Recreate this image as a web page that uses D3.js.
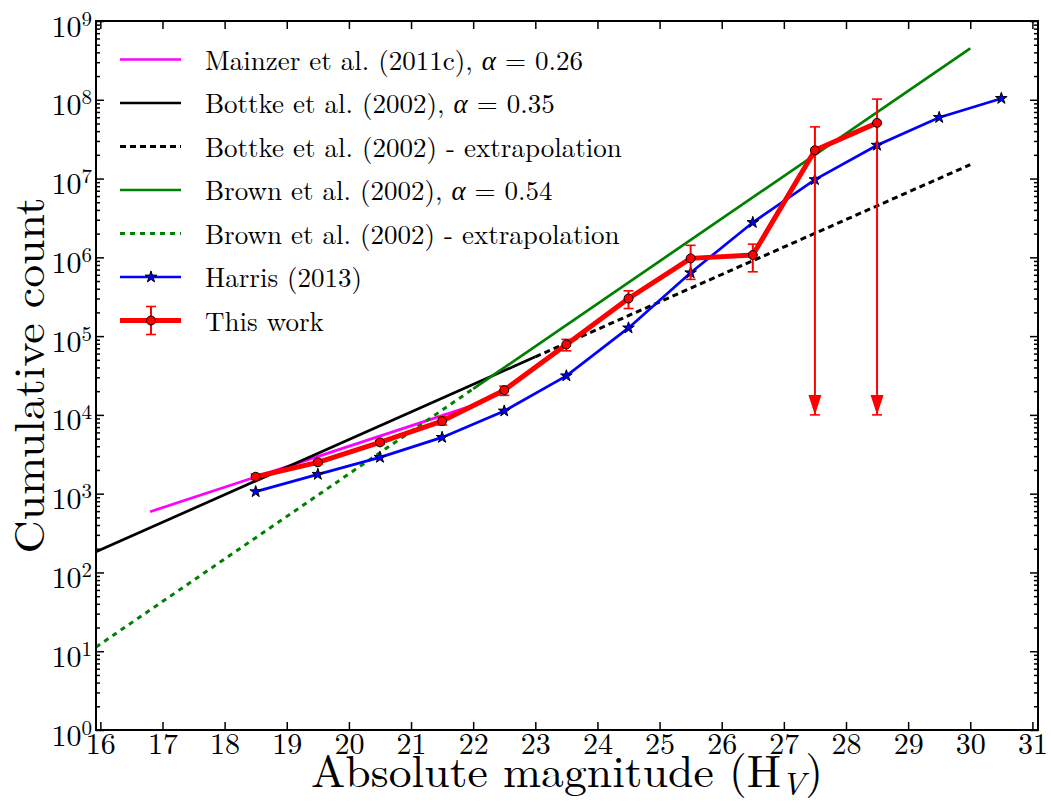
<!DOCTYPE html>
<html>
<head>
<meta charset="utf-8">
<script src="https://cdn.jsdelivr.net/npm/d3@7"></script>
<style>
  body { margin: 0; background: #fff; }
  svg { display: block; }
</style>
</head>
<body>
<svg class="svg-main" width="1051" height="810"></svg>
<script>
// power-law fits (endpoints)
const mainzerH = [16.8, 22.0];
const mainzerN = [590, 13200];
const bottkeH = [15.93, 23.0];
const bottkeN = [183, 54600];
const bottkeExtH = [23.0, 30.0];
const bottkeExtN = [54600, 1.5e7];
const brownH = [22.0, 30.0];
const brownN = [21400, 4.48e8];
const brownExtH = [15.93, 22.0];
const brownExtN = [11.3, 21400];

// Harris (2013)
const harrisH = [18.5, 19.5, 20.5, 21.5, 22.5, 23.5, 24.5, 25.5, 26.5, 27.5, 28.5, 29.5, 30.5];
const harrisN = [1060, 1760, 2890, 5180, 11200, 31300, 127000, 636000, 2.77e6, 9.7e6, 2.65e7, 5.96e7, 1.04e8];

// this work
const thisH = [18.5, 19.5, 20.5, 21.5, 22.5, 23.5, 24.5, 25.5, 26.5, 27.5, 28.5];
const thisN = [1640, 2500, 4480, 8340, 20600, 78500, 300000, 970000, 1.07e6, 2.29e7, 5.09e7];
const thisLo = [1510, 2350, 4250, 7430, 17700, 65000, 224000, 525000, 655000, 1e4, 1e4];
const thisHi = [1780, 2650, 4750, 9460, 23200, 90800, 376000, 1.42e6, 1.47e6, 4.53e7, 1.02e8];
const thisLimit = [0, 0, 0, 0, 0, 0, 0, 0, 0, 1, 1];

const xTicks = d3.range(16, 32);
const yTicks = d3.range(0, 10).map(k => Math.pow(10, k));

const legendLabels = [
  ["Mainzer et al. (2011c), ", "α", " = 0.26"],
  ["Bottke et al. (2002), ", "α", " = 0.35"],
  ["Bottke et al. (2002) - extrapolation"],
  ["Brown et al. (2002), ", "α", " = 0.54"],
  ["Brown et al. (2002) - extrapolation"],
  ["Harris (2013)"],
  ["This work"]
];

const FONT = '"Latin Modern Roman", "Liberation Serif", serif';

const svg = d3.select('.svg-main');
const pLeft = 96, pRight = 1038, pTop = 21, pBottom = 730;

const x = d3.scaleLinear().domain([15.93, 31.09]).range([pLeft, pRight]);
const y = d3.scaleLog().domain([1, 1e9]).range([pBottom, pTop]);

svg.append("defs").append("clipPath").attr("id", "plot")
  .append("rect")
    .attr("x", pLeft).attr("y", pTop)
    .attr("width", pRight - pLeft).attr("height", pBottom - pTop);

const plot = svg.append("g").attr("clip-path", "url(#plot)");

const line = d3.line()
  .x((d) => x(d[0]))
  .y((d) => y(d[1]));

const zip = (a, b) => a.map((v, i) => [v, b[i]]);

const styles = [
  {h: mainzerH, n: mainzerN, color: "#ff00ff", w: 2.7, dash: null},
  {h: bottkeH, n: bottkeN, color: "#000000", w: 2.7, dash: null},
  {h: bottkeExtH, n: bottkeExtN, color: "#000000", w: 3, dash: "6,4"},
  {h: brownH, n: brownN, color: "#008000", w: 2.7, dash: null},
  {h: brownExtH, n: brownExtN, color: "#008000", w: 3, dash: "5,5"},
  {h: harrisH, n: harrisN, color: "#0000ff", w: 2.7, dash: null}
];

styles.forEach((s) => {
  plot.append("path")
    .datum(zip(s.h, s.n))
    .attr("fill", "none")
    .attr("stroke", s.color)
    .attr("stroke-width", s.w)
    .attr("stroke-dasharray", s.dash)
    .attr("d", line);
});

const star = d3.symbol().type(d3.symbolStar).size(42);

plot.append("g").selectAll("path")
  .data(zip(harrisH, harrisN))
  .enter().append("path")
    .attr("transform", (d) => `translate(${x(d[0])},${y(d[1])})`)
    .attr("d", star)
    .attr("fill", "#0000ff")
    .attr("stroke", "#000")
    .attr("stroke-width", 1);

// this work: error bars first, then line and markers
const thisData = thisH.map((h, i) => ({h: h, n: thisN[i], lo: thisLo[i], hi: thisHi[i], lim: thisLimit[i]}));

const err = plot.append("g").attr("stroke", "#ff0000").attr("fill", "#ff0000");
thisData.forEach((d) => {
  const cx = x(d.h);
  err.append("line")
    .attr("x1", cx).attr("x2", cx)
    .attr("y1", y(d.hi)).attr("y2", y(d.lo))
    .attr("stroke-width", 2);
  err.append("line")
    .attr("x1", cx - 5).attr("x2", cx + 5)
    .attr("y1", y(d.hi)).attr("y2", y(d.hi))
    .attr("stroke-width", 1.6);
  err.append("line")
    .attr("x1", cx - 5).attr("x2", cx + 5)
    .attr("y1", y(d.lo)).attr("y2", y(d.lo))
    .attr("stroke-width", 1.6);
  if (d.lim) {
    const ty = y(d.lo);
    err.append("path")
      .attr("d", `M${cx - 6.5},${ty - 20}L${cx + 6.5},${ty - 20}L${cx},${ty}Z`)
      .attr("stroke", "none");
  }
});

plot.append("path")
  .datum(zip(thisH, thisN))
  .attr("fill", "none")
  .attr("stroke", "#ff0000")
  .attr("stroke-width", 5)
  .attr("stroke-linejoin", "round")
  .attr("d", line);

plot.append("g").selectAll("circle")
  .data(thisData)
  .enter().append("circle")
    .attr("cx", (d) => x(d.h))
    .attr("cy", (d) => y(d.n))
    .attr("r", 4.5)
    .attr("fill", "#ff0000")
    .attr("stroke", "#000")
    .attr("stroke-width", 1);

// axes, ticks inward on all four sides
const minor = [];
for (let k = 0; k < 9; k++) {
  for (let m = 2; m < 10; m++) minor.push(m * Math.pow(10, k));
}

const axisStyle = (g) => {
  g.select(".domain").remove();
  g.selectAll(".tick line").attr("stroke", "#000").attr("stroke-width", 1.5);
};

svg.append("g")
  .attr("transform", `translate(0,${pBottom})`)
  .call(d3.axisBottom(x).tickValues(xTicks).tickSize(-8).tickPadding(3).tickFormat(d3.format("d")))
  .call(axisStyle)
  .call((g) => g.selectAll("text").attr("font-size", 30).style("font-family", FONT).attr("fill", "#000"));

svg.append("g")
  .attr("transform", `translate(0,${pTop})`)
  .call(d3.axisTop(x).tickValues(xTicks).tickSize(-8).tickFormat(""))
  .call(axisStyle);

const yLeft = svg.append("g")
  .attr("transform", `translate(${pLeft},0)`)
  .call(d3.axisLeft(y).tickValues(yTicks).tickSize(-8).tickPadding(4).tickFormat(""))
  .call(axisStyle);

yLeft.selectAll(".tick text")
  .attr("font-size", 30)
  .style("font-family", FONT)
  .attr("fill", "#000")
  .attr("dy", 15)
  .each(function(d) {
    const t = d3.select(this);
    t.append("tspan").text("10");
    t.append("tspan").attr("font-size", 21).attr("dy", -11).text(Math.round(Math.log10(d)));
  });

svg.append("g")
  .attr("transform", `translate(${pLeft},0)`)
  .call(d3.axisLeft(y).tickValues(minor).tickSize(-4).tickFormat(""))
  .call(axisStyle);

svg.append("g")
  .attr("transform", `translate(${pRight},0)`)
  .call(d3.axisRight(y).tickValues(yTicks).tickSize(-8).tickFormat(""))
  .call(axisStyle);

svg.append("g")
  .attr("transform", `translate(${pRight},0)`)
  .call(d3.axisRight(y).tickValues(minor).tickSize(-4).tickFormat(""))
  .call(axisStyle);

svg.append("rect")
  .attr("x", pLeft).attr("y", pTop)
  .attr("width", pRight - pLeft).attr("height", pBottom - pTop)
  .attr("fill", "none")
  .attr("stroke", "#000")
  .attr("stroke-width", 2);

// axis labels
const xl = svg.append("text")
  .attr("x", (pLeft + pRight) / 2)
  .attr("y", 787)
  .attr("text-anchor", "middle")
  .attr("font-size", 45)
  .style("font-family", FONT)
  .attr("textLength", 512)
  .attr("lengthAdjust", "spacingAndGlyphs");
xl.append("tspan").text("Absolute magnitude (H");
xl.append("tspan").attr("font-size", 32).attr("font-style", "italic").attr("dy", 8).text("V");
xl.append("tspan").attr("dy", -8).text(")");

svg.append("text")
  .attr("transform", `translate(44,${(pTop + pBottom) / 2}) rotate(-90)`)
  .attr("text-anchor", "middle")
  .attr("font-size", 43)
  .style("font-family", FONT)
  .attr("textLength", 356)
  .attr("lengthAdjust", "spacingAndGlyphs")
  .text("Cumulative count");

// legend
const legend = svg.append("g");
const rowY = (i) => 59.5 + i * 43.5;
const lx1 = 120, lx2 = 181, lmid = 151;

styles.forEach((s, i) => {
  legend.append("line")
    .attr("x1", lx1).attr("x2", lx2)
    .attr("y1", rowY(i)).attr("y2", rowY(i))
    .attr("stroke", s.color)
    .attr("stroke-width", s.w)
    .attr("stroke-dasharray", s.dash);
});

legend.append("path")
  .attr("transform", `translate(${lmid},${rowY(5)})`)
  .attr("d", star)
  .attr("fill", "#0000ff")
  .attr("stroke", "#000");

const ly = rowY(6);
legend.append("line")
  .attr("x1", lx1).attr("x2", lx2).attr("y1", ly).attr("y2", ly)
  .attr("stroke", "#ff0000").attr("stroke-width", 5);
legend.append("line")
  .attr("x1", lmid).attr("x2", lmid).attr("y1", ly - 14).attr("y2", ly + 14)
  .attr("stroke", "#ff0000").attr("stroke-width", 2);
[ly - 14, ly + 14].forEach((cy) => {
  legend.append("line")
    .attr("x1", lmid - 5).attr("x2", lmid + 5).attr("y1", cy).attr("y2", cy)
    .attr("stroke", "#ff0000").attr("stroke-width", 1.6);
});
legend.append("circle")
  .attr("cx", lmid).attr("cy", ly).attr("r", 4.5)
  .attr("fill", "#ff0000").attr("stroke", "#000");

legendLabels.forEach((parts, i) => {
  const t = legend.append("text")
    .attr("x", 205)
    .attr("y", rowY(i) + 10)
    .attr("font-size", 27)
    .style("font-family", FONT);
  parts.forEach((p) => {
    t.append("tspan")
      .attr("font-style", p === "α" ? "italic" : null)
      .attr("xml:space", "preserve")
      .text(p);
  });
});
</script>
</body>
</html>
